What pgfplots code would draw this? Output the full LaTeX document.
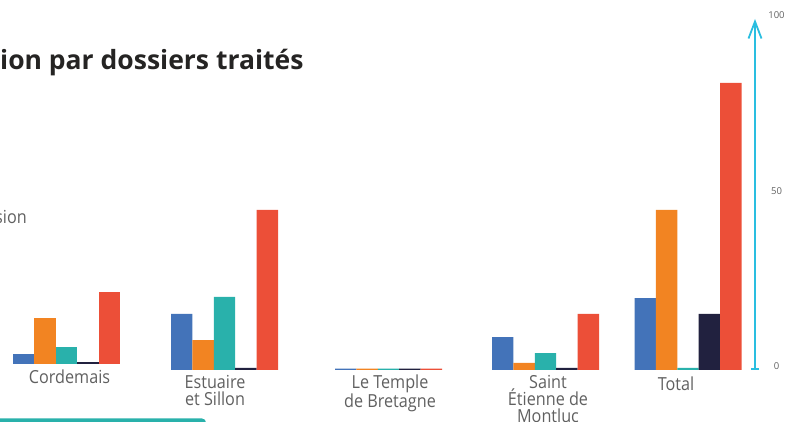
\documentclass[border=0pt]{standalone}
\usepackage{pgfplots}
\pgfplotsset{compat=1.18}
\usepackage{fontspec}
\setmainfont{Open Sans}
\newfontfamily\labfont[FakeStretch=0.9]{Open Sans}
\usetikzlibrary{arrows.meta}
\definecolor{cblue}{HTML}{4373B9}
\definecolor{corange}{HTML}{F28422}
\definecolor{cteal}{HTML}{29B1AB}
\definecolor{cdark}{HTML}{21213F}
\definecolor{cred}{HTML}{EC4F38}
\definecolor{ccyan}{HTML}{2ABEE0}
\definecolor{labgray}{HTML}{606060}
\definecolor{titleblack}{HTML}{252423}
\newcommand{\st}[1]{\rule{0pt}{#1pt}}
\pgfplotsset{
  barbase/.style={
    scale only axis, width=755pt, height=351pt,
    xmin=0, xmax=755, ymin=0, ymax=100,
    ybar, bar width=21.4, clip=false,
  }
}
\begin{document}
\begin{tikzpicture}[x=1pt,y=1pt]
\useasboundingbox (0pt,0pt) rectangle (785pt,422pt);
% main axis
\begin{axis}[barbase,
  at={(0pt,52pt)}, anchor=south west,
  axis x line*=bottom, x axis line style={draw=none},
  axis y line*=right,
  y axis line style={draw=ccyan, line width=1.8pt, {Bar[width=8pt,line width=1.8pt]}-{Straight Barb[length=17pt,width=13pt,line width=1.8pt]}},
  ytick={0,50,100}, ytick style={draw=none}, xtick style={draw=none},
  yticklabel style={font=\fontsize{9.5}{11}\selectfont, text=labgray, anchor=center, xshift=21.5pt, yshift=3.5pt},
  /pgf/number format/assume math mode=true,
  xtick={69.5,215,390,548,676},
  xticklabels={{\st{14}Cordemais},{\st{19}Estuaire\\et Sillon},{\st{19}Le Temple\\de Bretagne},{\st{19}Saint\\Étienne de\\Montluc},{\st{21}Total}},
  xticklabel style={align=center, font=\labfont\fontsize{18}{17}\selectfont, text=labgray, inner sep=0pt, yshift=5pt},
]
\addplot[fill=cblue, draw=none, bar shift=-42.8] coordinates {(224.5,16.0) (388.5,0.4) (545.5,9.4) (688,20.5)};
\addplot[fill=corange, draw=none, bar shift=-21.4] coordinates {(224.5,8.5) (388.5,0.4) (545.5,2.0) (688,45.6)};
\addplot[fill=cteal, draw=none, bar shift=0] coordinates {(224.5,20.8) (388.5,0.4) (545.5,4.8) (688,0.6)};
\addplot[fill=cdark, draw=none, bar shift=21.4] coordinates {(224.5,0.6) (388.5,0.4) (545.5,0.6) (688,16.0)};
\addplot[fill=cred, draw=none, bar shift=42.8] coordinates {(224.5,45.6) (388.5,0.4) (545.5,16.0) (688,81.8)};
\end{axis}
% Cordemais group (sits slightly higher)
\begin{axis}[barbase, at={(0pt,58pt)}, anchor=south west, hide axis]
\addplot[fill=cblue, draw=none, bar shift=-42.8] coordinates {(66.5,2.8)};
\addplot[fill=corange, draw=none, bar shift=-21.4] coordinates {(66.5,13.1)};
\addplot[fill=cteal, draw=none, bar shift=0] coordinates {(66.5,4.8)};
\addplot[fill=cdark, draw=none, bar shift=21.4] coordinates {(66.5,0.6)};
\addplot[fill=cred, draw=none, bar shift=42.8] coordinates {(66.5,20.5)};
\end{axis}
\node[anchor=base west, inner sep=0, font=\fontsize{26.5}{30}\selectfont\bfseries, text=titleblack] at (0pt,352pt) {ion par dossiers traités};
\node[anchor=base east, inner sep=0, font=\labfont\fontsize{18}{18}\selectfont, text=labgray] at (27pt,198pt) {sion};
\fill[cteal, rounded corners=4pt] (-10pt,-6pt) rectangle (206pt,3.5pt);
\end{tikzpicture}
\end{document}
